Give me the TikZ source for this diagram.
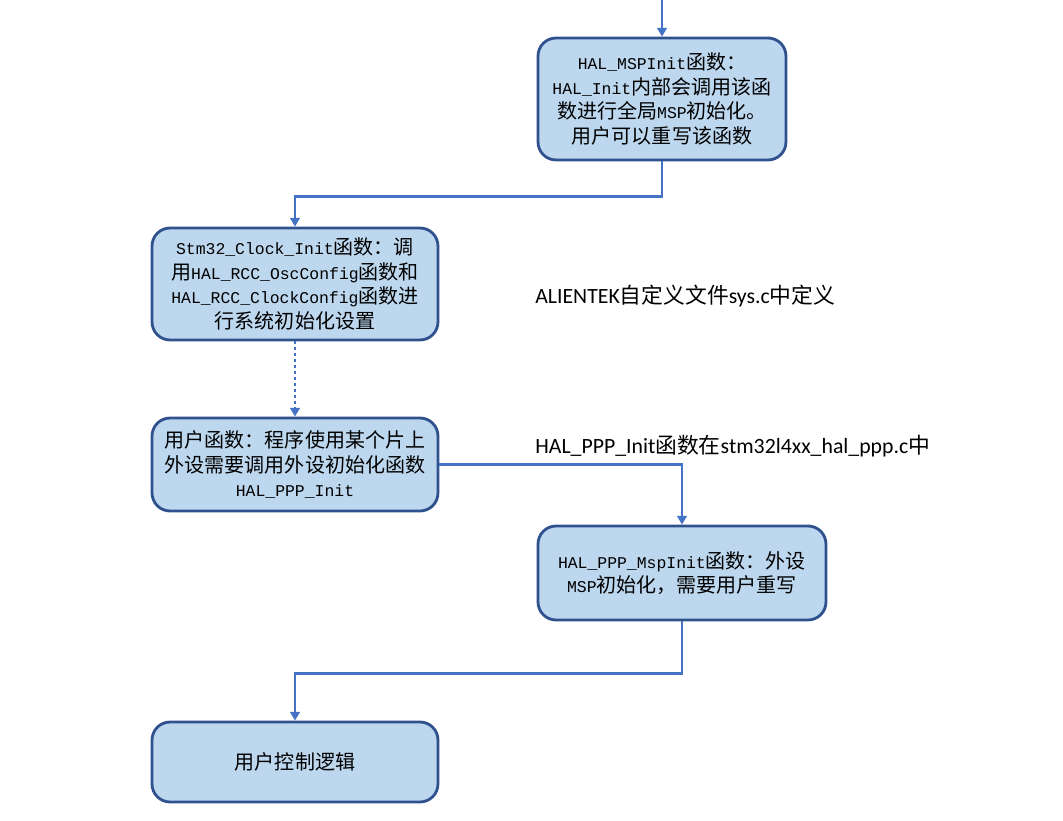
\documentclass[tikz,border=0pt]{standalone}
\usepackage{fontspec}
\setmainfont{Carlito}
\newfontfamily\cjk{Noto Sans CJK SC}
\newfontfamily\monof[Scale=0.82]{Liberation Mono}
\usetikzlibrary{positioning,arrows.meta}

\definecolor{boxfill}{RGB}{189,215,238}
\definecolor{boxline}{RGB}{47,82,143}
\definecolor{flowline}{RGB}{68,114,196}

\newcommand{\code}[1]{{\monof #1}}
\newcommand{\zh}[1]{{\cjk #1}}

\begin{document}
\begin{tikzpicture}[x=0.02cm, y=-0.02cm,
  fbox/.style={draw=boxline, line width=1.6pt, fill=boxfill, rounded corners=0.36cm, align=center, inner sep=2pt, font=\cjk\fontsize{11.4}{13.9}\selectfont},
  arr/.style={draw=flowline, line width=1.4pt, -{Triangle[length=5pt,width=5.5pt]}},
  dots/.style={arr, dotted},
  note/.style={anchor=west, inner sep=0pt, font=\fontsize{12.4}{14}\selectfont}
]
\useasboundingbox (0,0) rectangle (1063,821);
% boxes
\node[fbox, minimum width=4.96cm, minimum height=2.44cm] (mspinit) at (662,99) {\code{HAL\_MSPInit}函数：\\\code{HAL\_Init}内部会调用该函\\数进行全局\code{MSP}初始化。\\用户可以重写该函数};
\node[fbox, minimum width=5.72cm, minimum height=2.24cm] (clock) at (295,284) {\code{Stm32\_Clock\_Init}函数：调\\用\code{HAL\_RCC\_OscConfig}函数和\\\code{HAL\_RCC\_ClockConfig}函数进\\行系统初始化设置};
\node[fbox, minimum width=5.72cm, minimum height=1.86cm] (userfn) at (295,464.5) {用户函数：程序使用某个片上\\外设需要调用外设初始化函数\\\code{HAL\_PPP\_Init}};
\node[fbox, minimum width=5.76cm, minimum height=1.88cm] (pppmsp) at (682,573) {\code{HAL\_PPP\_MspInit}函数：外设\\\code{MSP}初始化，需要用户重写};
\node[fbox, minimum width=5.72cm, minimum height=1.60cm] (logic) at (295,762) {用户控制逻辑};
% notes
\node[note] (sysnote) at (535,296) {ALIENTEK\zh{自定义文件}sys.c\zh{中定义}};
\node[note] (pppnote) at (535,446) {HAL\_PPP\_Init\zh{函数在}stm32l4xx\_hal\_ppp.c\zh{中}};
% flow
\coordinate (entry) at (662,0);
\draw[arr] (entry) -- (mspinit.north);
\draw[arr] (mspinit.south) -- ++(0,35) -| (clock.north);
\draw[dots] (clock.south) -- (userfn.north);
\draw[arr] (userfn.east) -| (pppmsp.north);
\draw[arr] (pppmsp.south) -- ++(0,52) -| (logic.north);
\end{tikzpicture}
\end{document}
